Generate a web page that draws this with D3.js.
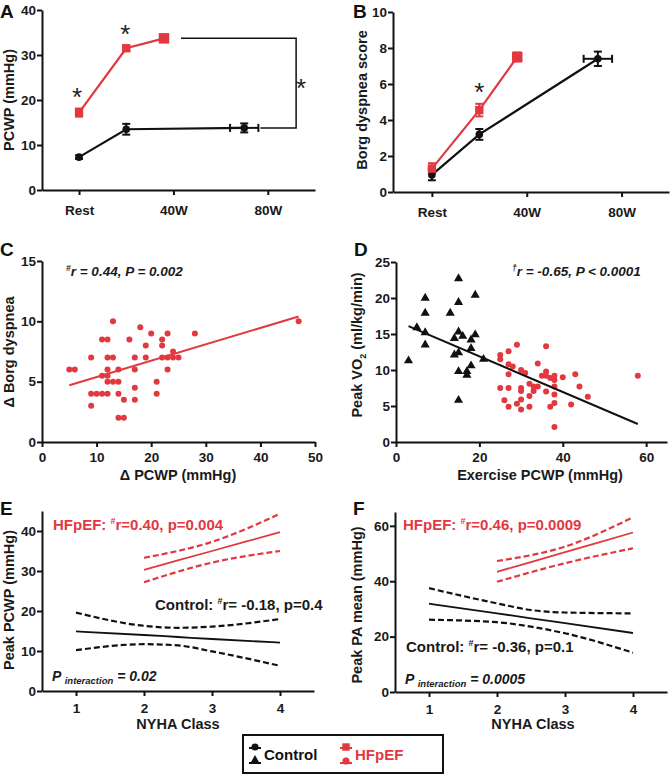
<!DOCTYPE html>
<html>
<head>
<meta charset="utf-8">
<script src="https://cdn.jsdelivr.net/npm/d3@7"></script>
<style>
  body { margin: 0; background: #fff; }
  svg { display: block; }
</style>
</head>
<body>
<svg width="670" height="775"></svg>
<script>
// ---- data ----
// A / B : exercise stages (watts), Rest = 0
const stageLabels = ["Rest", "40W", "80W"];
const stageWatts = [0, 40, 80];

const hfWatts = [0, 20, 36];
const ctrlWatts = [0, 20, 70];
const ctrlWattErr = [0, 0, 6];
const hfWattErr = [0, 0, 1.5];

const hfPcwp = [17.2, 31.5, 33.7];
const hfPcwpErr = [0.9, 0.6, 0.8];
const ctrlPcwp = [7.3, 13.5, 13.8];
const ctrlPcwpErr = [0.4, 1.2, 1.0];

const hfBorg = [1.3, 4.55, 7.5];
const hfBorgErr = [0.3, 0.35, 0.25];
const ctrlBorg = [0.95, 3.2, 7.4];
const ctrlBorgErr = [0.3, 0.3, 0.4];

// C : delta PCWP vs delta Borg (HFpEF)
const deltaPcwp = [5, 6, 9, 9, 9, 10, 11, 11, 11, 12, 12, 12, 12, 12, 12, 13, 13, 13, 14, 14, 14, 14, 15, 15,
  16, 17, 17, 17, 17, 18, 19, 19, 20, 21, 21, 22, 22, 22, 23, 23, 23, 24, 24, 25, 28, 47];
const deltaBorg = [6, 6, 7, 4, 3, 4, 8.5, 5.5, 4, 8.5, 7, 6, 5, 4, 5.5, 10, 7, 5, 6, 5, 4, 2, 3.5, 2,
  8.5, 7, 6, 4.5, 3.5, 9.5, 8, 7, 9, 5, 4, 8.5, 8, 7, 9, 7, 6, 7.5, 7, 7, 9, 10];
const cFitX = [5, 47];
const cFitY = [4.7, 10.4];

// D : exercise PCWP vs peak VO2
const ctrlExPcwp = [3, 5, 7, 7, 7, 7, 13, 15, 15, 15, 15, 15, 15, 14, 14, 16, 17, 17, 18, 18, 18, 19, 19, 21];
const ctrlVo2 = [11.3, 15.9, 20, 17.9, 15.2, 13.5, 17.9, 22.7, 19.4, 15.3, 12.4, 9.8, 5.8, 14.4, 12.1, 14.7,
  9.8, 9.3, 14.2, 13, 10.6, 20.4, 14.9, 11.5];
const hfExPcwp = [25, 25, 25, 26, 27, 27, 27, 27, 27, 28, 29, 29, 30, 30, 30, 30, 30, 31, 32, 32, 32, 33, 33,
  34, 34, 35, 36, 36, 36, 36, 37, 37, 38, 38, 38, 38, 38, 38, 40, 42, 43, 44, 46, 58];
const hfVo2 = [12.1, 11.5, 7.5, 5.8, 12.6, 10.8, 9.4, 7.5, 4.9, 10.5, 13.5, 5.3, 10, 7.5, 7.1, 5.9, 4.5, 9.6,
  8.1, 6.4, 4.9, 7.7, 7.1, 10.9, 7.7, 9.2, 13.3, 9.8, 9.2, 7, 8.9, 4.9, 9.2, 8.6, 7.7, 6.6, 5.4, 2.1,
  9, 5.2, 9.4, 7.7, 6.3, 9.2];
const dFitX = [3, 58];
const dFitY = [16.1, 2.5];

// E / F : NYHA class regressions with 95% bands
const nyhaTicks = [1, 2, 3, 4];
const ctrlNyha = [1, 2, 2.5, 3, 4];
const hfNyha = [2, 3, 4];

const ePcwpHf = [30.3, 35, 39.7];
const ePcwpHfHi = [33.3, 37.3, 44.3];
const ePcwpHfLo = [27.2, 32.1, 35.0];
const ePcwpCtrl = [14.9, 14, 13.5, 13, 12.1];
const ePcwpCtrlHi = [19.6, 16.3, 15.8, 16.1, 18];
const ePcwpCtrlLo = [10.2, 11.7, 11.4, 9.9, 6.3];

const fPaHf = [43.4, 50.5, 57.6];
const fPaHfHi = [47.3, 52.5, 63.1];
const fPaHfLo = [39.8, 46.5, 51.9];
const fPaCtrl = [31.9, 28.4, 26.6, 24.9, 21.3];
const fPaCtrlHi = [37.5, 32, 29.6, 28.7, 28.4];
const fPaCtrlLo = [26.1, 25.2, 23.6, 21.2, 14.2];

// ---- drawing ----
const FONT = "'Liberation Sans', Arial, Helvetica, sans-serif";
const red = "#e2383f";
const svg = d3.select("svg")
    .attr("font-family", FONT);

const addAxes = (x, y, xticks, yticks, xfmt, xpad) => {
    let gx = svg.append("g")
        .attr("transform", "translate(0," + y.range()[0] + ")")
        .call(d3.axisBottom(x).tickValues(xticks).tickSize(5).tickSizeOuter(0)
            .tickPadding(xpad).tickFormat(xfmt || d3.format("d")));
    let gy = svg.append("g")
        .attr("transform", "translate(" + x.range()[0] + ",0)")
        .call(d3.axisLeft(y).tickValues(yticks).tickSize(5).tickSizeOuter(0)
            .tickPadding(1).tickFormat(d3.format("d")));
    [gx, gy].forEach(g => {
        g.select(".domain").attr("stroke-width", 2).attr("stroke", "#111");
        g.selectAll(".tick line").attr("stroke-width", 2).attr("stroke", "#111");
        g.selectAll("text")
            .attr("font-family", FONT)
            .attr("font-size", 13.5)
            .attr("font-weight", "bold")
            .attr("fill", "#1a1a1a");
    });
};

const panelLabel = (txt, x, y) => {
    svg.append("text").attr("x", x).attr("y", y)
        .attr("font-size", 19).attr("font-weight", "bold").attr("fill", "#111")
        .text(txt);
};

const yTitle = (txt, x, y, sub) => {
    let t = svg.append("text")
        .attr("transform", "translate(" + x + "," + y + ") rotate(-90)")
        .attr("text-anchor", "middle")
        .attr("font-size", 14.5).attr("font-weight", "bold").attr("fill", "#1a1a1a");
    if (sub) {
        t.append("tspan").text(txt[0]);
        t.append("tspan").attr("font-size", 9).attr("dy", 4).text(sub);
        t.append("tspan").attr("dy", -4).text(txt[1]);
    } else {
        t.text(txt);
    }
};

const xTitle = (txt, x, y) => {
    svg.append("text").attr("x", x).attr("y", y)
        .attr("text-anchor", "middle")
        .attr("font-size", 14.5).attr("font-weight", "bold").attr("fill", "#1a1a1a")
        .text(txt);
};

const star = (x, y) => {
    svg.append("text").attr("x", x).attr("y", y + 14)
        .attr("text-anchor", "middle")
        .attr("font-size", 26).attr("fill", "#222")
        .text("*");
};

const squareSym = d3.symbol().type(d3.symbolSquare);
const circleSym = d3.symbol().type(d3.symbolCircle);
const triSym = d3.symbol().type(d3.symbolTriangle);

// exercise panels (A, B)
const stagePanel = (x, y, hfY, hfErr, ctrlY, ctrlErr) => {
    const line = d3.line().x(d => x(d[0])).y(d => y(d[1]));
    const hf = hfWatts.map((w, i) => [w, hfY[i], hfErr[i], hfWattErr[i]]);
    const ct = ctrlWatts.map((w, i) => [w, ctrlY[i], ctrlErr[i], ctrlWattErr[i]]);

    [[ct, "#111"], [hf, red]].forEach(([pts, col]) => {
        svg.append("path").datum(pts)
            .attr("fill", "none").attr("stroke", col).attr("stroke-width", 2.2)
            .attr("d", line);
        let eb = svg.append("g").attr("stroke", col).attr("stroke-width", 2);
        pts.forEach(d => {
            if (d[2] > 0) {
                eb.append("line").attr("x1", x(d[0])).attr("x2", x(d[0]))
                    .attr("y1", y(d[1] - d[2])).attr("y2", y(d[1] + d[2]));
                [d[1] - d[2], d[1] + d[2]].forEach(v => {
                    eb.append("line").attr("x1", x(d[0]) - 4).attr("x2", x(d[0]) + 4)
                        .attr("y1", y(v)).attr("y2", y(v));
                });
            }
            if (d[3] > 0) {
                eb.append("line").attr("y1", y(d[1])).attr("y2", y(d[1]))
                    .attr("x1", x(d[0] - d[3])).attr("x2", x(d[0] + d[3]));
                [d[0] - d[3], d[0] + d[3]].forEach(v => {
                    eb.append("line").attr("y1", y(d[1]) - 4).attr("y2", y(d[1]) + 4)
                        .attr("x1", x(v)).attr("x2", x(v));
                });
            }
        });
    });
    svg.append("g").selectAll("path").data(ct).join("path")
        .attr("transform", d => "translate(" + x(d[0]) + "," + y(d[1]) + ")")
        .attr("d", circleSym.size(45)).attr("fill", "#111");
    svg.append("g").selectAll("path").data(hf).join("path")
        .attr("transform", d => "translate(" + x(d[0]) + "," + y(d[1]) + ")")
        .attr("d", (d, i) => squareSym.size(i == 2 ? 110 : 70)()).attr("fill", red);
};

// ---- Panel A ----
const xA = d3.scaleLinear().domain([-15.7, 100]).range([42, 315]);
const yA = d3.scaleLinear().domain([0, 40]).range([190, 10]);
addAxes(xA, yA, stageWatts, [0, 10, 20, 30, 40], (d, i) => stageLabels[i], 10);
// bracket between peak values
svg.append("path")
    .attr("fill", "none").attr("stroke", "#111").attr("stroke-width", 1.5)
    .attr("d", "M" + (xA(hfWatts[2]) + 17) + "," + yA(hfPcwp[2])
        + "H" + xA(92) + "V" + yA(ctrlPcwp[2]) + "H" + (xA(ctrlWatts[2] + ctrlWattErr[2]) + 2));
stagePanel(xA, yA, hfPcwp, hfPcwpErr, ctrlPcwp, ctrlPcwpErr);
star(xA(0) - 2, 92);
star(xA(20) - 1, 29);
star(301, 83);
panelLabel("A", 0, 18);
yTitle("PCWP (mmHg)", 14, 100);

// ---- Panel B ----
const xB = d3.scaleLinear().domain([-16.4, 100]).range([393, 669]);
const yB = d3.scaleLinear().domain([0, 10]).range([192, 12]);
addAxes(xB, yB, stageWatts, [0, 2, 4, 6, 8, 10], (d, i) => stageLabels[i], 10);
stagePanel(xB, yB, hfBorg, hfBorgErr, ctrlBorg, ctrlBorgErr);
star(xB(20), 87);
panelLabel("B", 353, 18);
yTitle("Borg dyspnea score", 367, 100);

// ---- Panel C ----
const xC = d3.scaleLinear().domain([0, 50]).range([42, 315]);
const yC = d3.scaleLinear().domain([0, 15]).range([442, 261]);
addAxes(xC, yC, [0, 10, 20, 30, 40, 50], [0, 5, 10, 15], null, 5);
svg.append("line")
    .attr("x1", xC(cFitX[0])).attr("y1", yC(cFitY[0]))
    .attr("x2", xC(cFitX[1])).attr("y2", yC(cFitY[1]))
    .attr("stroke", red).attr("stroke-width", 2);
svg.append("g").selectAll("circle").data(deltaPcwp).join("circle")
    .attr("cx", d => xC(d))
    .attr("cy", (d, i) => yC(deltaBorg[i]))
    .attr("r", 3).attr("fill", red);
panelLabel("C", 0, 256);
yTitle("\u0394 Borg dyspnea", 14, 352);
xTitle("\u0394 PCWP (mmHg)", 178, 480);
let tc = svg.append("text").attr("x", 66).attr("y", 276)
    .attr("font-size", 13.5).attr("font-weight", "bold").attr("font-style", "italic").attr("fill", "#1a1a1a");
tc.append("tspan").attr("font-size", 8.5).attr("dy", -5).text("#");
tc.append("tspan").attr("dy", 5).text("r = 0.44, P = 0.002");

// ---- Panel D ----
const xD = d3.scaleLinear().domain([0, 65]).range([396, 667]);
const yD = d3.scaleLinear().domain([0, 25]).range([442, 262]);
addAxes(xD, yD, [0, 20, 40, 60], [0, 5, 10, 15, 20, 25], null, 5);
svg.append("g").selectAll("path").data(ctrlExPcwp).join("path")
    .attr("transform", (d, i) => "translate(" + xD(d) + "," + yD(ctrlVo2[i]) + ")")
    .attr("d", triSym.size(36)).attr("fill", "#111");
svg.append("g").selectAll("circle").data(hfExPcwp).join("circle")
    .attr("cx", d => xD(d))
    .attr("cy", (d, i) => yD(hfVo2[i]))
    .attr("r", 3).attr("fill", red);
svg.append("line")
    .attr("x1", xD(dFitX[0])).attr("y1", yD(dFitY[0]))
    .attr("x2", xD(dFitX[1])).attr("y2", yD(dFitY[1]))
    .attr("stroke", "#111").attr("stroke-width", 2);
panelLabel("D", 354, 256);
yTitle(["Peak VO", " (ml/kg/min)"], 362, 345, "2");
xTitle("Exercise PCWP (mmHg)", 540, 480);
let td = svg.append("text").attr("x", 512).attr("y", 276)
    .attr("font-size", 13.5).attr("font-weight", "bold").attr("font-style", "italic").attr("fill", "#1a1a1a");
td.append("tspan").attr("font-size", 8.5).attr("dy", -5).text("\u2020");
td.append("tspan").attr("dy", 5).text("r = -0.65, P < 0.0001");

// ---- Panels E, F ----
const bandPanel = (x, y, yticks, sets) => {
    addAxes(x, y, nyhaTicks, yticks, null, 7);
    sets.forEach(s => {
        const line = d3.line().curve(d3.curveMonotoneX)
            .x((d, i) => x(s.xs[i])).y(d => y(d));
        svg.append("path").datum(s.mid)
            .attr("fill", "none").attr("stroke", s.col).attr("stroke-width", 1.8)
            .attr("d", line);
        [s.hi, s.lo].forEach(b => {
            svg.append("path").datum(b)
                .attr("fill", "none").attr("stroke", s.col).attr("stroke-width", 2.2)
                .attr("stroke-dasharray", "6,3")
                .attr("d", line);
        });
    });
};

const statText = (x, y, pre, post, col, size) => {
    let t = svg.append("text").attr("x", x).attr("y", y)
        .attr("font-size", size).attr("font-weight", "bold").attr("fill", col);
    t.append("tspan").text(pre);
    t.append("tspan").attr("font-size", size * 0.6).attr("dy", -6).text("#");
    t.append("tspan").attr("dy", 6).text(post);
};

const interText = (x, y, val) => {
    let t = svg.append("text").attr("x", x).attr("y", y)
        .attr("font-size", 14).attr("font-weight", "bold").attr("font-style", "italic").attr("fill", "#1a1a1a");
    t.append("tspan").text("P ");
    t.append("tspan").attr("font-size", 9.5).attr("dy", 3).text("interaction");
    t.append("tspan").attr("dy", -3).text(" = " + val);
};

const xE = d3.scaleLinear().domain([0.5, 4.5]).range([42, 314]);
const yE = d3.scaleLinear().domain([0, 45]).range([691, 511]);
bandPanel(xE, yE, [0, 10, 20, 30, 40], [
    {xs: ctrlNyha, mid: ePcwpCtrl, hi: ePcwpCtrlHi, lo: ePcwpCtrlLo, col: "#111"},
    {xs: hfNyha, mid: ePcwpHf, hi: ePcwpHfHi, lo: ePcwpHfLo, col: red}
]);
panelLabel("E", 0, 515);
yTitle("Peak PCWP (mmHg)", 14, 600);
xTitle("NYHA Class", 178, 729);
statText(53, 530, "HFpEF: ", "r=0.40, p=0.004", red, 15);
statText(155, 610, "Control: ", "r= -0.18, p=0.4", "#1a1a1a", 15);
interText(52, 681, "0.02");

const xF = d3.scaleLinear().domain([0.5, 4.5]).range([395, 667]);
const yF = d3.scaleLinear().domain([0, 65]).range([692, 512]);
bandPanel(xF, yF, [0, 20, 40, 60], [
    {xs: ctrlNyha, mid: fPaCtrl, hi: fPaCtrlHi, lo: fPaCtrlLo, col: "#111"},
    {xs: hfNyha, mid: fPaHf, hi: fPaHfHi, lo: fPaHfLo, col: red}
]);
panelLabel("F", 353, 515);
yTitle("Peak PA mean (mmHg)", 362, 605);
xTitle("NYHA Class", 533, 729);
statText(403, 530, "HFpEF: ", "r=0.46, p=0.0009", red, 15);
statText(406, 652, "Control: ", "r= -0.36, p=0.1", "#1a1a1a", 15);
interText(405, 684, "0.0005");

// ---- Legend ----
let lg = svg.append("g");
lg.append("rect").attr("x", 243).attr("y", 735).attr("width", 200).attr("height", 38)
    .attr("fill", "none").attr("stroke", "#111").attr("stroke-width", 2);
const legendItems = [
    {name: "Control", col: "#111", x: 255, syms: [circleSym.size(40), triSym.size(45)]},
    {name: "HFpEF", col: red, x: 346, syms: [squareSym.size(55), circleSym.size(40)]}
];
legendItems.forEach(it => {
    [748, 763].forEach((yy, i) => {
        lg.append("line").attr("x1", it.x - 6).attr("x2", it.x + 6)
            .attr("y1", yy).attr("y2", yy)
            .attr("stroke", it.col).attr("stroke-width", 2);
        lg.append("path").attr("transform", "translate(" + it.x + "," + (yy - (i == 0 ? 1 : 2)) + ")")
            .attr("d", it.syms[i]()).attr("fill", it.col);
    });
    lg.append("text").attr("x", it.x + 9).attr("y", 760)
        .attr("font-size", 15).attr("font-weight", "bold").attr("fill", it.col)
        .text(it.name);
});
</script>
</body>
</html>
